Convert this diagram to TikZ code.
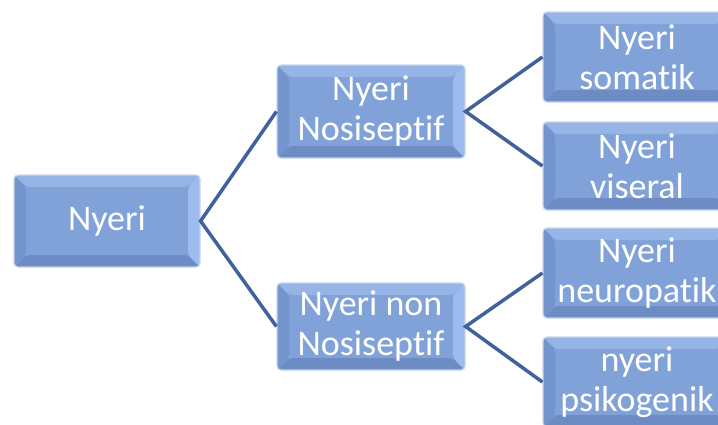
\documentclass[tikz,border=0pt]{standalone}
\usepackage{fontspec}
\setmainfont[Ligatures=NoCommon,RawFeature=-liga]{Carlito}
\definecolor{face}{HTML}{80A2D9}
\definecolor{bevtop}{HTML}{96B4E6}
\definecolor{bevright}{HTML}{9CBBEF}
\definecolor{bevleft}{HTML}{7394CC}
\definecolor{bevbot}{HTML}{6D8CC4}
\definecolor{edge}{HTML}{C9D5EA}
\definecolor{conn}{HTML}{40619A}
\tikzset{
  bevbox/.style={rectangle, rounded corners=4pt, fill=face, draw=edge, line width=1.2pt,
    inner sep=0pt, align=center, text=white,
    font=\fontsize{36}{40}\selectfont,
    path picture={
      \fill[bevtop] (path picture bounding box.north west) -- (path picture bounding box.north east)
        -- ([xshift=-12pt,yshift=-12pt]path picture bounding box.north east)
        -- ([xshift=12pt,yshift=-12pt]path picture bounding box.north west) -- cycle;
      \fill[bevbot] (path picture bounding box.south west) -- (path picture bounding box.south east)
        -- ([xshift=-12pt,yshift=12pt]path picture bounding box.south east)
        -- ([xshift=12pt,yshift=12pt]path picture bounding box.south west) -- cycle;
      \fill[bevleft] (path picture bounding box.north west) -- (path picture bounding box.south west)
        -- ([xshift=12pt,yshift=12pt]path picture bounding box.south west)
        -- ([xshift=12pt,yshift=-12pt]path picture bounding box.north west) -- cycle;
      \fill[bevright] (path picture bounding box.north east) -- (path picture bounding box.south east)
        -- ([xshift=-12pt,yshift=12pt]path picture bounding box.south east)
        -- ([xshift=-12pt,yshift=-12pt]path picture bounding box.north east) -- cycle;
    }},
  connline/.style={draw=conn, line width=3.5pt}
}
\begin{document}
\begin{tikzpicture}[x=1pt,y=-1pt]
\useasboundingbox (0,0) rectangle (718,424);
\node[bevbox, minimum width=186pt, minimum height=92pt] (n0) at (107,221) {Nyeri};
\node[bevbox, minimum width=188pt, minimum height=93pt] (n1) at (371,111.5) {Nyeri\\Nosiseptif};
\node[bevbox, minimum width=188pt, minimum height=87pt] (n2) at (371,326.5) {Nyeri non\\Nosiseptif};
\node[bevbox, minimum width=188pt, minimum height=90pt] (r1) at (637,57) {Nyeri\\somatik};
\node[bevbox, minimum width=188pt, minimum height=88pt] (r2) at (637,166) {Nyeri\\viseral};
\node[bevbox, minimum width=188pt, minimum height=90pt] (r3) at (637,273) {Nyeri\\neuropatik};
\node[bevbox, minimum width=188pt, minimum height=90pt] (r4) at (637,382) {nyeri\\psikogenik};
\draw[connline] (n1.west) -- (n0.east) -- (n2.west);
\draw[connline] (r1.west) -- (n1.east) -- (r2.west);
\draw[connline] (r3.west) -- (n2.east) -- (r4.west);
\end{tikzpicture}
\end{document}
